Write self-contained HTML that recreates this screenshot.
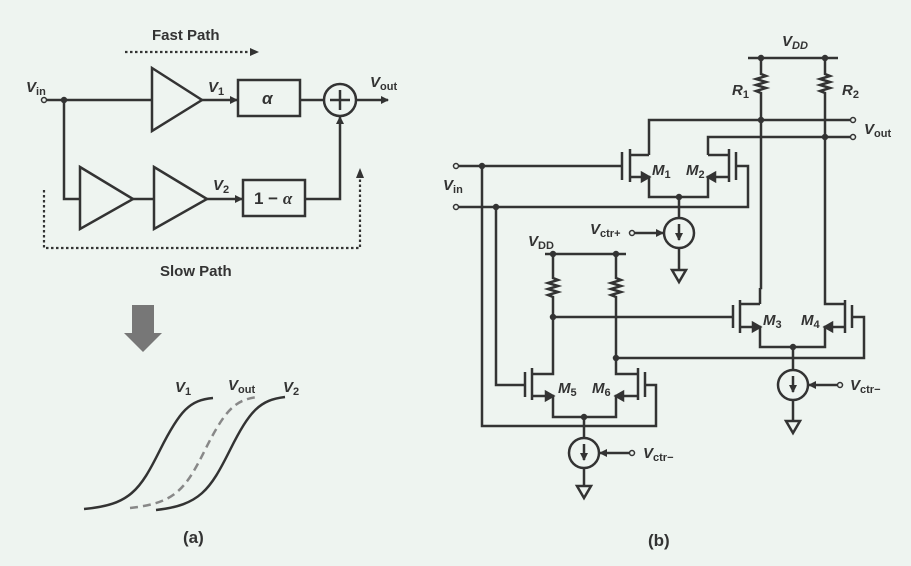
<!DOCTYPE html>
<html><head><meta charset="utf-8"><style>
html,body{margin:0;padding:0;background:#eef4f0;}
svg{display:block}
text{font-family:"Liberation Sans",Arial,sans-serif;fill:#333;font-weight:bold}
.v{font-style:italic}
</style></head><body>
<svg width="911" height="566" viewBox="0 0 911 566" xmlns="http://www.w3.org/2000/svg">
<defs>
<marker id="ar" markerWidth="8" markerHeight="8" refX="7" refY="4" orient="auto" markerUnits="userSpaceOnUse"><path d="M0,0 L8,4 L0,8 z" fill="#333"/></marker>
</defs>
<rect width="911" height="566" fill="#eef4f0"/>
<g stroke="#333" stroke-width="2.5" fill="none">
<!-- panel a -->
<line x1="125" y1="52" x2="250" y2="52" stroke-dasharray="2.5,2.5" stroke-width="2.2"/>
<path d="M250,48 L259,52 L250,56z" fill="#333" stroke="none"/>
<circle cx="44" cy="100" r="2.5" stroke-width="1.5"/>
<line x1="47" y1="100" x2="152" y2="100"/>
<circle cx="64" cy="100" r="2" fill="#333"/>
<path d="M152,68 L202,100 L152,131z"/>
<line x1="202" y1="100" x2="237" y2="100" marker-end="url(#ar)"/>
<rect x="238" y="80" width="62" height="36"/>
<line x1="300" y1="100" x2="324" y2="100"/>
<circle cx="340" cy="100" r="16"/>
<line x1="330" y1="100" x2="350" y2="100"/><line x1="340" y1="90" x2="340" y2="110"/>
<line x1="356" y1="100" x2="388" y2="100" marker-end="url(#ar)"/>
<polyline points="64,100 64,199 80,199"/>
<path d="M80,167 L133,199 L80,229z"/>
<line x1="133" y1="199" x2="154" y2="199"/>
<path d="M154,167 L207,199 L154,229z"/>
<line x1="207" y1="199" x2="242" y2="199" marker-end="url(#ar)"/>
<rect x="243" y="180" width="62" height="36"/>
<polyline points="305,199 340,199 340,117" marker-end="url(#ar)"/>
<polyline points="44,190 44,248 360,248 360,178" stroke-dasharray="2.5,2.5" stroke-width="2.2"/>
<path d="M356,178 L360,168 L364,178z" fill="#333" stroke="none"/>
<path d="M132,305 L154,305 L154,333 L162,333 L143,352 L124,333 L132,333z" fill="#777" stroke="none"/>
<path d="M84,509 C130,505 140,490 160,450 C180,410 190,400 213,398"/>
<path d="M130,508 C175,503 185,490 205,450 C225,410 235,400 257,397" stroke="#888" stroke-dasharray="8,5"/>
<path d="M156,510 C200,505 210,490 230,450 C250,410 260,400 285,397"/>
<!-- panel b -->
<line x1="748" y1="58" x2="838" y2="58"/>
<circle cx="761" cy="58" r="2" fill="#333"/><circle cx="825" cy="58" r="2" fill="#333"/>
<path d="M761,58 V74 l5,2 l-10,3 l10,3 l-10,3 l10,3 l-10,3 l5,2 V288 H760"/>
<path d="M825,58 V74 l5,2 l-10,3 l10,3 l-10,3 l10,3 l-10,3 l5,2 V304 H845"/>
<polyline points="649,155 649,120 850,120"/>
<polyline points="708,155 708,137 850,137"/>
<circle cx="853" cy="120" r="2.5" stroke-width="1.5"/><circle cx="853" cy="137" r="2.5" stroke-width="1.5"/>
<circle cx="761" cy="120" r="2" fill="#333"/><circle cx="825" cy="137" r="2" fill="#333"/>
<circle cx="456" cy="166" r="2.5" stroke-width="1.5"/><circle cx="456" cy="207" r="2.5" stroke-width="1.5"/>
<line x1="459" y1="166" x2="622" y2="166"/>
<polyline points="459,207 748,207 748,166 736,166"/>
<circle cx="482" cy="166" r="2" fill="#333"/><circle cx="496" cy="207" r="2" fill="#333"/>
<!-- M1 -->
<line x1="622" y1="152" x2="622" y2="180"/><line x1="630" y1="149" x2="630" y2="182"/>
<line x1="630" y1="155" x2="649" y2="155"/>
<polyline points="630,177 649,177 649,197 708,197 708,177 729,177"/>
<path d="M642,173 L649,177 L642,181z" fill="#333"/>
<path d="M715,173 L708,177 L715,181z" fill="#333"/>
<line x1="708" y1="155" x2="729" y2="155"/>
<line x1="729" y1="149" x2="729" y2="182"/><line x1="736" y1="152" x2="736" y2="180"/>
<circle cx="679" cy="197" r="2" fill="#333"/>
<line x1="679" y1="197" x2="679" y2="218"/>
<circle cx="679" cy="233" r="15"/>
<line x1="679" y1="224" x2="679" y2="240" marker-end="url(#ar)"/>
<circle cx="632" cy="233" r="2.5" stroke-width="1.5"/>
<line x1="635" y1="233" x2="663" y2="233" marker-end="url(#ar)"/>
<line x1="679" y1="248" x2="679" y2="270"/>
<path d="M672,270 L686,270 L679,282z"/>
<!-- M3 M4 -->
<line x1="760" y1="288" x2="760" y2="304"/>
<line x1="733" y1="305" x2="733" y2="328"/><line x1="740" y1="300" x2="740" y2="333"/>
<line x1="740" y1="304" x2="760" y2="304"/>
<polyline points="740,327 760,327 760,347 825,347 825,327 845,327"/>
<path d="M753,323 L760,327 L753,331z" fill="#333"/>
<path d="M832,323 L825,327 L832,331z" fill="#333"/>
<line x1="845" y1="300" x2="845" y2="333"/><line x1="852" y1="305" x2="852" y2="328"/>
<polyline points="852,317 864,317 864,358 616,358"/>
<line x1="553" y1="317" x2="733" y2="317"/>
<circle cx="553" cy="317" r="2" fill="#333"/><circle cx="616" cy="358" r="2" fill="#333"/>
<circle cx="793" cy="347" r="2" fill="#333"/>
<line x1="793" y1="347" x2="793" y2="370"/>
<circle cx="793" cy="385" r="15"/>
<line x1="793" y1="376" x2="793" y2="392" marker-end="url(#ar)"/>
<circle cx="840" cy="385" r="2.5" stroke-width="1.5"/>
<line x1="837" y1="385" x2="809" y2="385" marker-end="url(#ar)"/>
<line x1="793" y1="400" x2="793" y2="421"/>
<path d="M786,421 L800,421 L793,433z"/>
<!-- small VDD -->
<line x1="545" y1="254" x2="626" y2="254"/>
<circle cx="553" cy="254" r="2" fill="#333"/><circle cx="616" cy="254" r="2" fill="#333"/>
<path d="M553,254 V278 l5,2 l-10,3 l10,3 l-10,3 l10,3 l-10,3 l5,2 V374 H532"/>
<path d="M616,254 V278 l5,2 l-10,3 l10,3 l-10,3 l10,3 l-10,3 l5,2 V374 H638"/>
<!-- M5 M6 -->
<line x1="525" y1="372" x2="525" y2="397"/><line x1="532" y1="368" x2="532" y2="400"/>
<polyline points="532,396 553,396 553,417 616,417 616,396 638,396"/>
<path d="M546,392 L553,396 L546,400z" fill="#333"/>
<path d="M623,392 L616,396 L623,400z" fill="#333"/>
<line x1="638" y1="368" x2="638" y2="400"/><line x1="645" y1="372" x2="645" y2="397"/>
<polyline points="496,207 496,385 525,385"/>
<polyline points="482,166 482,426 656,426 656,385 645,385"/>
<circle cx="584" cy="417" r="2" fill="#333"/>
<line x1="584" y1="417" x2="584" y2="438"/>
<circle cx="584" cy="453" r="15"/>
<line x1="584" y1="444" x2="584" y2="460" marker-end="url(#ar)"/>
<circle cx="632" cy="453" r="2.5" stroke-width="1.5"/>
<line x1="629" y1="453" x2="600" y2="453" marker-end="url(#ar)"/>
<line x1="584" y1="468" x2="584" y2="486"/>
<path d="M577,486 L591,486 L584,498z"/>
</g>
<g font-size="15">
<text x="152" y="40">Fast Path</text>
<text x="160" y="276">Slow Path</text>
<text x="26" y="92" class="v">V<tspan font-size="11" font-style="normal" dy="3">in</tspan></text>
<text x="208" y="92" class="v">V<tspan font-size="11" font-style="normal" dy="3">1</tspan></text>
<text x="370" y="87" class="v">V<tspan font-size="11" font-style="normal" dy="3">out</tspan></text>
<text x="213" y="190" class="v">V<tspan font-size="11" font-style="normal" dy="3">2</tspan></text>
<text x="262" y="104" class="v" font-size="17" font-family="Liberation Serif">α</text>
<text x="254" y="204" font-size="17" font-weight="normal">1 − <tspan class="v" font-family="Liberation Serif">α</tspan></text>
<text x="175" y="392" class="v">V<tspan font-size="11" font-style="normal" dy="3">1</tspan></text>
<text x="228" y="390" class="v">V<tspan font-size="11" font-style="normal" dy="3">out</tspan></text>
<text x="283" y="392" class="v">V<tspan font-size="11" font-style="normal" dy="3">2</tspan></text>
<text x="183" y="543" font-weight="normal" font-size="17">(a)</text>
<text x="648" y="546" font-weight="normal" font-size="17">(b)</text>
<text x="782" y="46" class="v">V<tspan font-size="11" dy="3">DD</tspan></text>
<text x="732" y="95" class="v">R<tspan font-size="11" font-style="normal" dy="3">1</tspan></text>
<text x="842" y="95" class="v">R<tspan font-size="11" font-style="normal" dy="3">2</tspan></text>
<text x="864" y="134" class="v">V<tspan font-size="11" font-style="normal" dy="3">out</tspan></text>
<text x="443" y="190" class="v">V<tspan font-size="11" font-style="normal" dy="3">in</tspan></text>
<text x="652" y="175" class="v">M<tspan font-size="11" font-style="normal" dy="3">1</tspan></text>
<text x="686" y="175" class="v">M<tspan font-size="11" font-style="normal" dy="3">2</tspan></text>
<text x="590" y="234" class="v">V<tspan font-size="11" font-style="normal" dy="3">ctr+</tspan></text>
<text x="528" y="246" class="v">V<tspan font-size="11" font-style="normal" dy="3">DD</tspan></text>
<text x="763" y="325" class="v">M<tspan font-size="11" font-style="normal" dy="3">3</tspan></text>
<text x="801" y="325" class="v">M<tspan font-size="11" font-style="normal" dy="3">4</tspan></text>
<text x="558" y="393" class="v">M<tspan font-size="11" font-style="normal" dy="3">5</tspan></text>
<text x="592" y="393" class="v">M<tspan font-size="11" font-style="normal" dy="3">6</tspan></text>
<text x="850" y="390" class="v">V<tspan font-size="11" font-style="normal" dy="3">ctr−</tspan></text>
<text x="643" y="458" class="v">V<tspan font-size="11" font-style="normal" dy="3">ctr−</tspan></text>
</g>
</svg>
</body></html>
